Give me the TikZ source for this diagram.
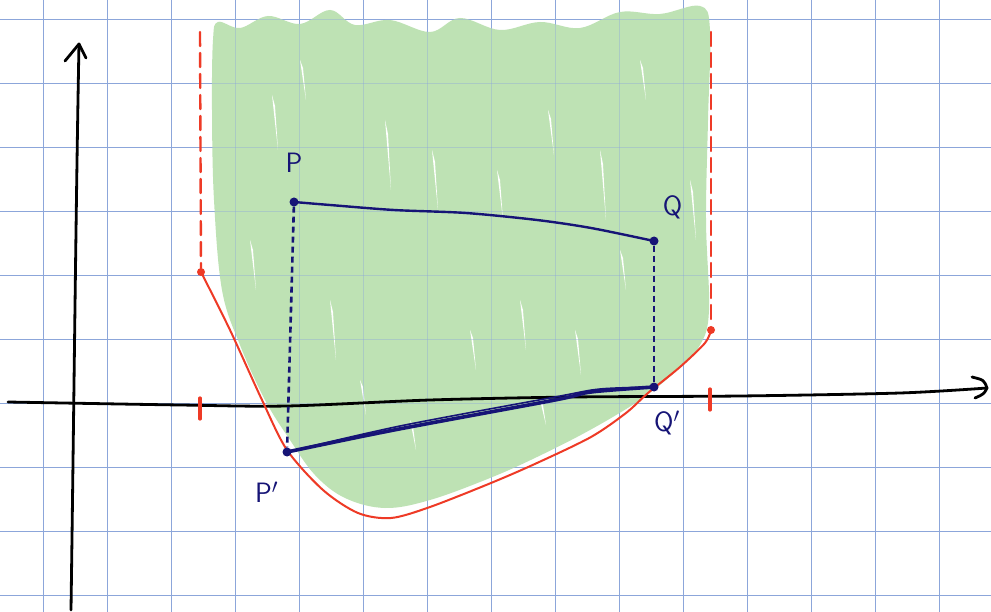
\documentclass[tikz,border=0pt]{standalone}
\usepackage{tikz}
\usetikzlibrary{arrows.meta, positioning}
\usepackage{xcolor}
\definecolor{gridblue}{RGB}{140, 166, 218}
\definecolor{inkred}{RGB}{238, 58, 38}
\definecolor{inknavy}{RGB}{22, 20, 118}
\definecolor{scribble}{RGB}{190, 226, 180}

\begin{document}
\begin{tikzpicture}[
  x=1pt, y=-1pt,
  gridline/.style={gridblue, line width=1.3pt},
  axis/.style={black, line width=2.8pt, line cap=round, line join=round},
  bound/.style={inkred, line width=2pt, line cap=round},
  boundgap/.style={bound, line width=2.4pt, dash pattern=on 14pt off 7pt},
  segment/.style={inknavy, line width=2.4pt, line cap=round},
  proj/.style={inknavy, line width=2.6pt, dash pattern=on 6pt off 4pt},
  dot/.style={circle, fill=inknavy, inner sep=0pt, minimum size=9pt},
  enddot/.style={circle, fill=inkred, inner sep=0pt, minimum size=8pt},
  lbl/.style={text=inknavy, font=\sffamily\fontsize{28}{30}\selectfont}
]
  \useasboundingbox (0,0) rectangle (991,612);
  \fill[white] (0,0) rectangle (991,612);

  % squared paper
  \foreach \k in {0,...,14} \draw[gridline] (43.3+64*\k,0) -- ++(0,612);
  \foreach \k in {0,...,9} \draw[gridline] (0,19.3+64*\k) -- ++(991,0);

  % shaded region
  \fill[scribble] plot[smooth cycle, tension=0.6] coordinates {
    (213,40) (218,22) (240,28) (268,16) (300,24) (330,10) (355,25)
    (390,20) (430,32) (460,18) (500,30) (540,22) (580,28) (620,12)
    (660,14) (700,6) (710,30) (708,120) (706,220) (709,310) (700,345)
    (675,372) (640,400) (590,430) (537,457) (490,478) (430,500)
    (385,508) (345,498) (315,475) (290,440) (265,400) (240,345)
    (222,290) (214,200) (212,110)};
  \foreach \sx/\sy/\len in {272/95/55, 300/60/40, 385/120/70, 432/150/60,
    497/170/50, 548/110/45, 600/150/70, 640/60/40, 330/300/60,
    470/330/40, 520/300/50, 575/330/45, 410/420/30, 690/180/60,
    250/240/50, 620/250/40, 360/380/35, 540/400/25}
    \fill[white] (\sx,\sy) -- ++(6,\len) -- ++(-3,-0.8*\len) -- cycle;
  \foreach \k in {0,...,14} \draw[gridline, opacity=0.4] (43.3+64*\k,0) -- ++(0,612);
  \foreach \k in {0,...,9} \draw[gridline, opacity=0.4] (0,19.3+64*\k) -- ++(991,0);

  % axes
  \coordinate (yfoot) at (71,610);
  \coordinate (ytip) at (79,44);
  \draw[axis] (yfoot) .. controls (74,400) and (76,200) .. (ytip);
  \draw[axis] (65,61) -- (ytip) -- (86,58);
  \coordinate (xfoot) at (8,402);
  \coordinate (xtip) at (987,388);
  \draw[axis] plot[smooth] coordinates {(xfoot) (180,405) (287,406) (430,400)
    (573,397) (740,396) (900,393) (xtip)};
  \draw[axis] (972,377) .. controls (984,380) .. (xtip)
    .. controls (984,394) .. (975,398);

  % domain ends
  \node[enddot] (lend) at (201,272) {};
  \node[enddot] (rend) at (711,330) {};
  \coordinate (ltop) at (200,32);
  \coordinate (rtop) at (711,32);
  \draw[boundgap] (ltop) -- (lend);
  \draw[boundgap] (rtop) -- (rend);
  \draw[bound, line width=3.2pt] (200,398) -- (200,419);
  \draw[bound, line width=3.2pt] (710,389) -- (710,410);

  % graph of the function
  \draw[bound] plot[smooth] coordinates {(lend) (230,330) (262,400) (287,450)
    (323,490) (358,513) (391,518) (430,507) (491,483) (537,463)
    (591,437) (626,413) (648,393) (680,367) (705,343) (rend)};

  % points and chords
  \node[dot] (P) at (294,202) {};
  \node[dot] (Q) at (654,241) {};
  \node[dot] (Pp) at (287,452) {};
  \node[dot] (Qp) at (654,387) {};
  \draw[segment] plot[smooth] coordinates {(P) (330,205) (394,210) (466,213)
    (537,220) (591,228) (Q)};
  \draw[segment, line width=3.6pt] plot[smooth] coordinates {(Pp) (394,430)
    (555,400) (591,392) (Qp)};
  \draw[segment, line width=1.6pt] plot[smooth] coordinates {(Pp) (400,426)
    (555,397) (600,389) (Qp)};
  \draw[proj] (P) -- (Pp);
  \draw[proj] (Q) -- (Qp);

  \node[lbl, above=21pt of P] (Plbl) {P};
  \node[lbl, above right=15pt and 2pt of Q] (Qlbl) {Q};
  \node[lbl, below left=23pt and 2pt of Pp] (Pplbl) {P$'$};
  \node[lbl, below=16pt of Qp, xshift=13pt] (Qplbl) {Q$'$};
\end{tikzpicture}
\end{document}
